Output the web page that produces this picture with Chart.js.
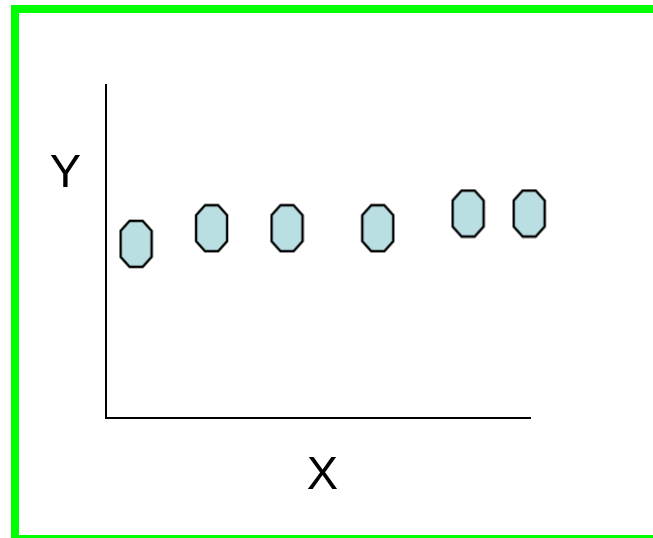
<!DOCTYPE html>
<html>
<head>
<meta charset="utf-8">
<title>X Y</title>
<script src="https://cdn.jsdelivr.net/npm/chart.js@4.4.0/dist/chart.umd.min.js"></script>
<style>
    html, body { margin: 0; padding: 0; background: #fff; overflow: hidden; }
    #wrap { position: relative; width: 653px; height: 538px; overflow: hidden; }
    #frame {
        position: absolute; left: 11px; top: 5px;
        width: 1000px; height: 538px; box-sizing: border-box;
        border: 8px solid #00ff00;
    }
    #chart { position: absolute; left: 0; top: 0; }
</style>
</head>
<body>
<div id="wrap">
    <div id="frame"></div>
    <canvas id="chart" width="653" height="538"></canvas>
</div>
<script>
// values (axes have no ticks, 0..10 on both)
const xValues = [0.71, 2.49, 4.27, 6.41, 8.54, 9.98];
const yValues = [5.23, 5.70, 5.70, 5.70, 6.14, 6.14];
const xTitle = 'X';
const yTitle = 'Y';

// octagon marker drawn once on a small canvas, used as pointStyle
function octagon(w, h, cx, cy){
    const c = document.createElement('canvas');
    c.width = w + 4;
    c.height = h + 4;
    const g = c.getContext('2d');
    const l = 2, t = 2, r = w + 2, b = h + 2;
    g.beginPath();
    g.moveTo(l + cx, t);
    g.lineTo(r - cx, t);
    g.lineTo(r, t + cy);
    g.lineTo(r, b - cy);
    g.lineTo(r - cx, b);
    g.lineTo(l + cx, b);
    g.lineTo(l, b - cy);
    g.lineTo(l, t + cy);
    g.closePath();
    g.fillStyle = '#b9dfe3';
    g.fill();
    g.lineWidth = 2.4;
    g.lineJoin = 'miter';
    g.strokeStyle = '#000';
    g.stroke();
    return c;
}

// the two letters sit off the axes, so they are drawn by hand
const letters = {
    id: 'letters',
    afterDraw(chart){
        const ctx = chart.ctx;
        ctx.save();
        ctx.fillStyle = '#000';
        ctx.font = '47px "Liberation Sans", Arial, sans-serif';
        ctx.textAlign = 'center';
        ctx.textBaseline = 'alphabetic';
        ctx.fillText(yTitle, 65.5, 187);
        ctx.fillText(xTitle, 322.5, 489);
        ctx.restore();
    }
};

function load(){
    const marker = octagon(31, 46, 9, 10);
    const points = xValues.map((x, i) => ({x: x, y: yValues[i]}));

    new Chart(document.getElementById('chart'), {
        type: 'scatter',
        data: {
            datasets: [{
                data: points,
                pointStyle: marker,
                pointRadius: 16,
                pointHoverRadius: 16,
                clip: false
            }]
        },
        options: {
            responsive: false,
            animation: false,
            events: [],
            layout: {
                padding: {left: 106, top: 85, right: 123, bottom: 120}
            },
            plugins: {
                legend: {display: false},
                tooltip: {enabled: false}
            },
            scales: {
                x: {
                    type: 'linear',
                    min: 0,
                    max: 10,
                    grid: {display: false, drawTicks: false},
                    ticks: {display: false},
                    border: {display: true, color: '#000', width: 2}
                },
                y: {
                    type: 'linear',
                    min: 0,
                    max: 10,
                    grid: {display: false, drawTicks: false},
                    ticks: {display: false},
                    border: {display: true, color: '#000', width: 2}
                }
            }
        },
        plugins: [letters]
    });
}

window.onload = () => {
    load();
};
</script>
</body>
</html>
